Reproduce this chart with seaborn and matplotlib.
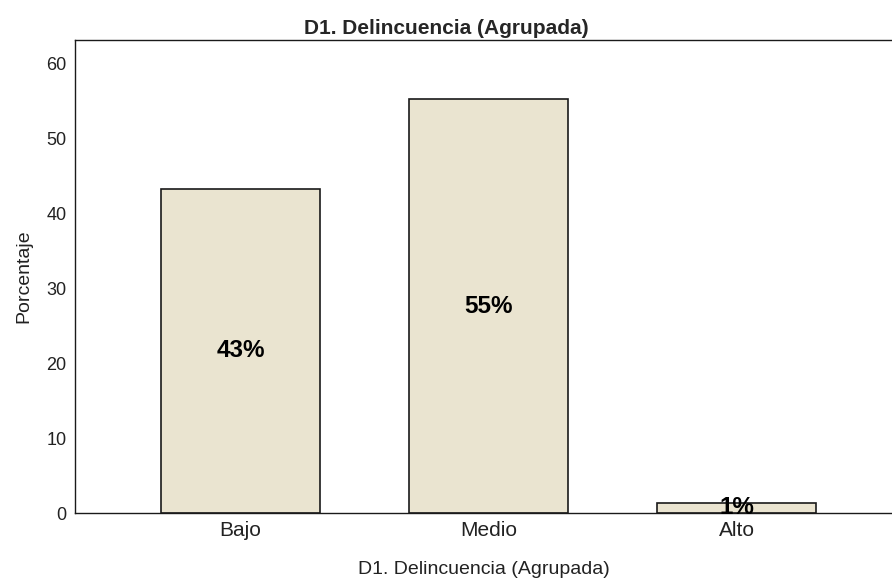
"""
Bar chart of D1. Delincuencia (Agrupada), SPSS style.
"""

import matplotlib.pyplot as plt
import seaborn as sns
import pandas as pd

categories = ['Bajo', 'Medio', 'Alto']
percentages = [43.3, 55.3, 1.4]

df = pd.DataFrame({'nivel': categories, 'porcentaje': percentages})

sns.set_style('white')
plt.rcParams['font.family'] = ['Liberation Sans', 'DejaVu Sans']

fig = plt.figure(figsize=(8.92, 5.8), dpi=100)
ax = fig.add_axes([0.084, 0.1155, 0.916, 0.8155])

sns.barplot(data=df, x='nivel', y='porcentaje', color='#EAE4D0', saturation=1,
            width=0.64, edgecolor='#1a1a1a', linewidth=1.2, ax=ax)

for i, v in enumerate(percentages):
    ax.text(i, v / 2, f'{round(v)}%', ha='center', va='center',
            fontsize=17.5, fontweight='bold', color='black')

ax.set_xlim(-0.667, 2.627)
ax.set_ylim(0, 63.2)
ax.set_yticks([0, 10, 20, 30, 40, 50, 60])
ax.tick_params(axis='both', length=0, labelsize=13, colors='#222222', pad=6)
ax.tick_params(axis='x', labelsize=15, pad=6)
for side in ['top', 'left', 'bottom']:
    ax.spines[side].set_color('#1a1a1a')
    ax.spines[side].set_linewidth(1.0)
ax.spines['right'].set_visible(False)

ax.set_xlabel('D1. Delincuencia (Agrupada)', fontsize=14, color='#222222', labelpad=15)
ax.set_ylabel('Porcentaje', fontsize=14, color='#222222', labelpad=10)
fig.text(0.5, 0.951, 'D1. Delincuencia (Agrupada)', ha='center', va='center',
         fontsize=15, fontweight='bold')

plt.savefig('out.png', dpi=100)
